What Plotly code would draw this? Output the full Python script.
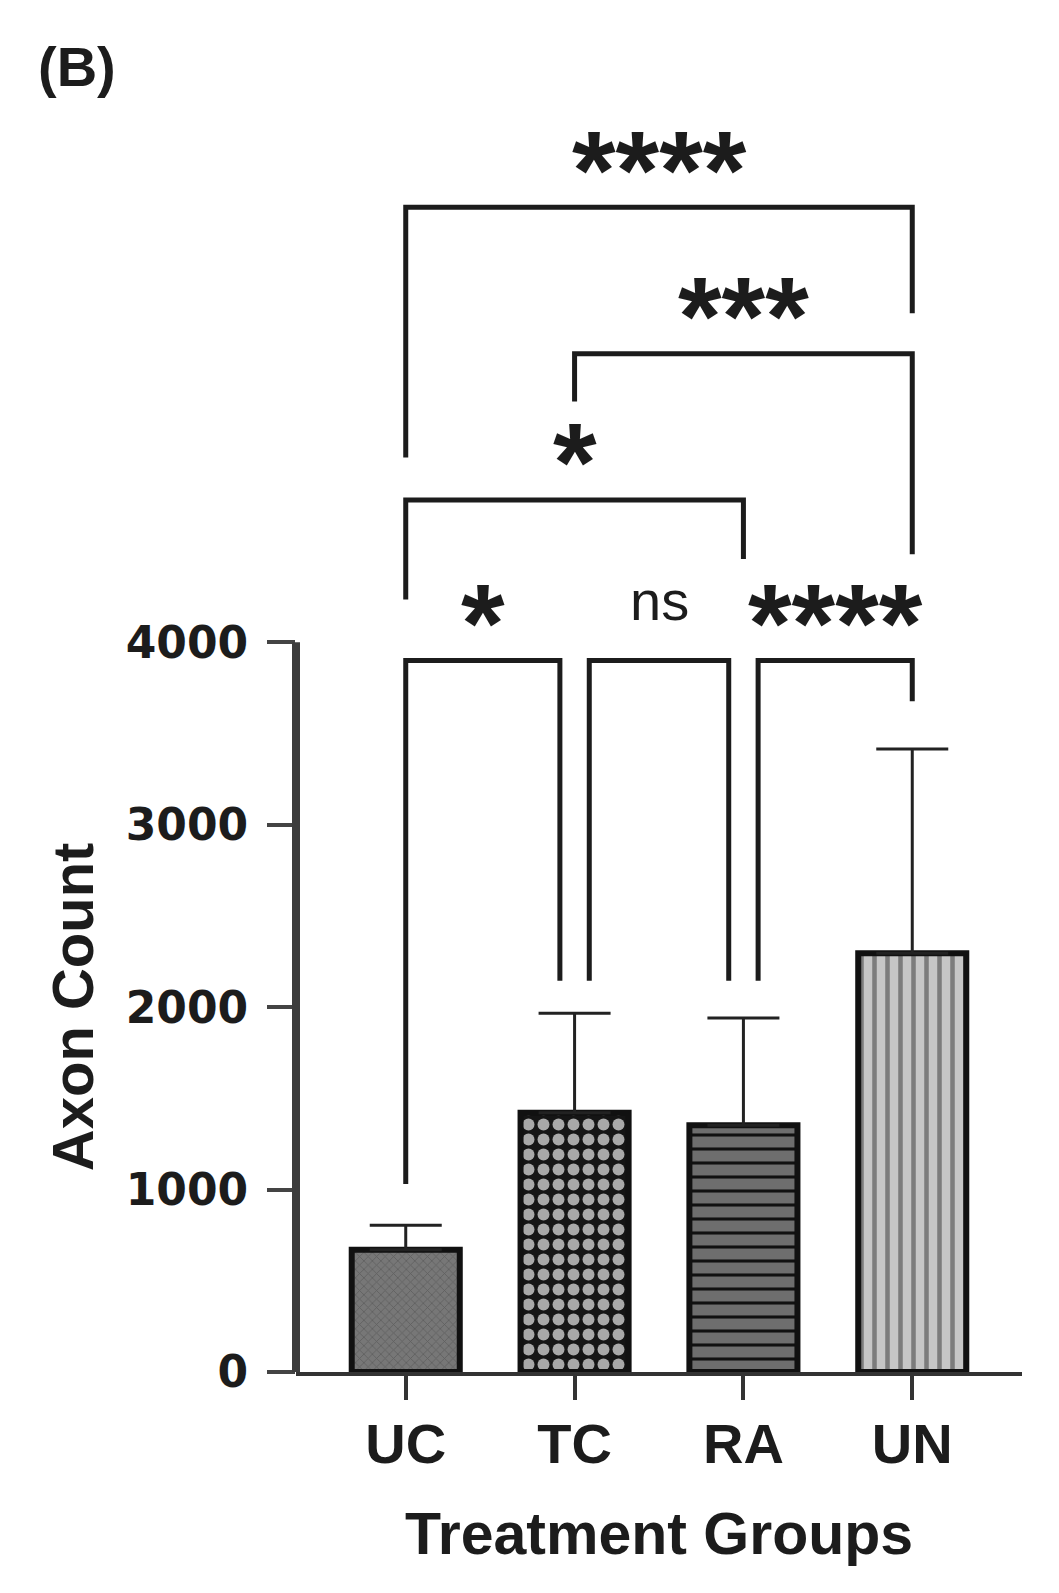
import plotly.graph_objects as go

# ---------------- data ----------------
categories = ["UC", "TC", "RA", "UN"]
mean_axon_count = [670, 1421, 1353, 2296]
sd_axon_count = [135, 546, 587, 1119]
y_tick_values = [0, 1000, 2000, 3000, 4000]

comparison_pairs = [("UC", "TC"), ("TC", "RA"), ("RA", "UN"),
                    ("UC", "RA"), ("TC", "UN"), ("UC", "UN")]
comparison_labels = ["*", "ns", "****", "*", "***", "****"]
bracket_heights = [3900, 3900, 3900, 4780, 5582, 6384]
left_leg_bottoms = [1031, 2145, 2145, 4234, 5320, 5013]
right_leg_bottoms = [2145, 2145, 3677, 4457, 4482, 5803]

# ---------------- styles ----------------
INK = "#1c1c1c"
BOLD = dict(family="Liberation Sans, Arial, sans-serif", weight="bold", color=INK)
pattern_shapes = ["x", ".", "-", "|"]
pattern_bg = ["#777777", "#151515", "#6e6e6e", "#c6c6c6"]
pattern_fg = ["#5e5e5e", "#a8a8a8", "#111111", "#7c7c7c"]
pattern_size = [6, 15, 14, 13]
pattern_solidity = [0.25, 0.5, 0.22, 0.35]
Y_MAX = 7400

pos = {c: i for i, c in enumerate(categories)}
xs = [pos[c] for c in categories]

fig = go.Figure()
fig.add_trace(go.Bar(
    x=xs, y=mean_axon_count, width=0.64,
    marker=dict(
        line=dict(color="#111111", width=6),
        pattern=dict(shape=pattern_shapes, bgcolor=pattern_bg, fgcolor=pattern_fg,
                     size=pattern_size, solidity=pattern_solidity, fillmode="replace"),
    ),
    error_y=dict(type="data", array=sd_axon_count, arrayminus=[0] * len(categories),
                 symmetric=False, color="#222222", thickness=3, width=36),
    showlegend=False, hoverinfo="skip",
))

# significance brackets
INSET = 0.087
adjacent = [(pos[a], pos[b]) for a, b in comparison_pairs if pos[b] - pos[a] == 1]
annotations = []
for (a, b), lab, h, lb, rb in zip(comparison_pairs, comparison_labels, bracket_heights,
                                  left_leg_bottoms, right_leg_bottoms):
    xl, xr = pos[a], pos[b]
    if xr - xl == 1:
        xl_d = xl + INSET if any(o[1] == xl for o in adjacent) else xl
        xr_d = xr - INSET if any(o[0] == xr for o in adjacent) else xr
    else:
        xl_d, xr_d = xl, xr
    fig.add_trace(go.Scatter(
        x=[xl_d, xl_d, xr_d, xr_d], y=[lb, h, h, rb], mode="lines",
        line=dict(color=INK, width=5), showlegend=False, hoverinfo="skip",
    ))
    if lab == "ns":
        font = dict(family="Liberation Sans, Arial, sans-serif", size=56, color=INK)
        ys = 60
    else:
        font = dict(BOLD, size=112)
        ys = 37
    annotations.append(dict(x=(xl_d + xr_d) / 2, y=h, xref="x", yref="y", text=lab,
                            showarrow=False, xanchor="center", yanchor="middle",
                            yshift=ys, font=font))

annotations.append(dict(x=-0.3085, y=2000, xref="paper", yref="y", text="Axon Count",
                        textangle=-90, showarrow=False, xanchor="center", yanchor="middle",
                        font=dict(BOLD, size=58)))
annotations.append(dict(x=-0.3017, y=0.9667, xref="paper", yref="paper", text="(B)",
                        showarrow=False, xanchor="center", yanchor="middle",
                        font=dict(BOLD, size=56)))

fig.update_layout(
    width=1059, height=1593,
    margin=dict(l=288, r=45, t=14, b=229),
    paper_bgcolor="white", plot_bgcolor="white",
    annotations=annotations,
    # y-axis line spanning only the ticked range (0-4000), as in the original
    shapes=[dict(type="line", xref="paper", x0=0, x1=0, yref="paper",
                 y0=y_tick_values[0] / Y_MAX, y1=y_tick_values[-1] / Y_MAX,
                 line=dict(color="#3c3c3c", width=8))],
)
fig.update_xaxes(
    range=[-0.65, 3.65], tickvals=xs, ticktext=categories,
    ticks="outside", ticklen=24, tickwidth=4, tickcolor="#333333",
    showline=True, linewidth=4, linecolor="#333333", showgrid=False, zeroline=False,
    tickfont=dict(BOLD, size=56), ticklabelstandoff=-4,
    title=dict(text="Treatment Groups", font=dict(BOLD, size=59), standoff=39),
)
fig.update_yaxes(
    range=[0, Y_MAX], tickvals=y_tick_values, ticktext=[str(v) for v in y_tick_values],
    ticks="outside", ticklen=28, tickwidth=4, tickcolor="#444444",
    showline=False, showgrid=False, zeroline=False,
    tickfont=dict(family="DejaVu Sans, sans-serif", weight="bold", size=44, color=INK),
    ticklabelstandoff=10,
)

fig.write_html("out.html")
